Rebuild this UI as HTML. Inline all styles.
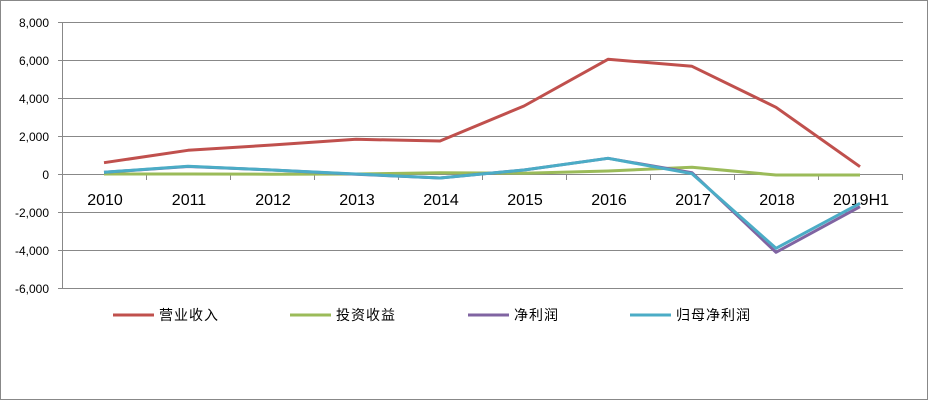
<!DOCTYPE html>
<html><head><meta charset="utf-8"><style>
html,body{margin:0;padding:0;background:#fff;}
svg{display:block;}
</style></head><body>
<svg width="928" height="400" viewBox="0 0 928 400" xmlns="http://www.w3.org/2000/svg">
<rect x="0.5" y="0.5" width="927" height="399" fill="#fff" stroke="#888" stroke-width="1"/>
<g stroke="#888" stroke-width="1" shape-rendering="crispEdges">
<line x1="58" y1="22.5" x2="903" y2="22.5"/>
<line x1="58" y1="60.5" x2="903" y2="60.5"/>
<line x1="58" y1="98.5" x2="903" y2="98.5"/>
<line x1="58" y1="136.5" x2="903" y2="136.5"/>
<line x1="58" y1="174.5" x2="903" y2="174.5"/>
<line x1="58" y1="212.5" x2="903" y2="212.5"/>
<line x1="58" y1="250.5" x2="903" y2="250.5"/>
<line x1="58" y1="288.5" x2="903" y2="288.5"/>
<line x1="62.5" y1="22" x2="62.5" y2="289"/>
<line x1="146.5" y1="175" x2="146.5" y2="180"/>
<line x1="230.5" y1="175" x2="230.5" y2="180"/>
<line x1="314.5" y1="175" x2="314.5" y2="180"/>
<line x1="398.5" y1="175" x2="398.5" y2="180"/>
<line x1="482.5" y1="175" x2="482.5" y2="180"/>
<line x1="566.5" y1="175" x2="566.5" y2="180"/>
<line x1="650.5" y1="175" x2="650.5" y2="180"/>
<line x1="734.5" y1="175" x2="734.5" y2="180"/>
<line x1="818.5" y1="175" x2="818.5" y2="180"/>
<line x1="902.5" y1="175" x2="902.5" y2="180"/>
</g>
<g font-family="Liberation Sans, sans-serif" font-size="12" fill="#000" text-anchor="end">
<text x="49" y="27">8,000</text>
<text x="49" y="65">6,000</text>
<text x="49" y="103">4,000</text>
<text x="49" y="141">2,000</text>
<text x="49" y="179">0</text>
<text x="49" y="217">-2,000</text>
<text x="49" y="255">-4,000</text>
<text x="49" y="293">-6,000</text>
</g>
<g font-family="Liberation Sans, sans-serif" font-size="16" fill="#000" text-anchor="middle">
<text x="105" y="205">2010</text>
<text x="189" y="205">2011</text>
<text x="273" y="205">2012</text>
<text x="357" y="205">2013</text>
<text x="441" y="205">2014</text>
<text x="525" y="205">2015</text>
<text x="609" y="205">2016</text>
<text x="693" y="205">2017</text>
<text x="777" y="205">2018</text>
<text x="861" y="205">2019H1</text>
</g>
<g fill="none" stroke-width="3" stroke-linejoin="round" stroke-linecap="butt">
<polyline stroke="#C0504D" points="104,162.7 188,150.3 272,145 356,139.3 440,141 524,106 608,59.3 692,66.3 776,107.3 860,166.7"/>
<polyline stroke="#9BBB59" points="104,174 188,174 272,174.2 356,174 440,172.7 524,173.2 608,171 692,167.3 776,175 860,175"/>
<polyline stroke="#8064A2" points="104,172.3 188,166.5 272,170 356,174.2 440,178 524,170 608,158.3 692,172.7 776,252.3 860,206.7"/>
<polyline stroke="#4BACC6" points="104,172.3 188,166.2 272,170 356,174 440,178 524,170 608,158.3 692,173.7 776,248.3 860,203.3"/>
</g>
<g stroke-width="3">
<line x1="113" y1="315" x2="154" y2="315" stroke="#C0504D"/>
<line x1="290" y1="315" x2="331" y2="315" stroke="#9BBB59"/>
<line x1="468" y1="315" x2="509" y2="315" stroke="#8064A2"/>
<line x1="630" y1="315" x2="671" y2="315" stroke="#4BACC6"/>
</g>
<g font-family="Liberation Sans, 'Noto Sans CJK SC', sans-serif" font-size="14" fill="#000" letter-spacing="1">
<text x="159" y="320">营业收入</text>
<text x="336" y="320">投资收益</text>
<text x="514" y="320">净利润</text>
<text x="676" y="320">归母净利润</text>
</g>
</svg>
</body></html>
